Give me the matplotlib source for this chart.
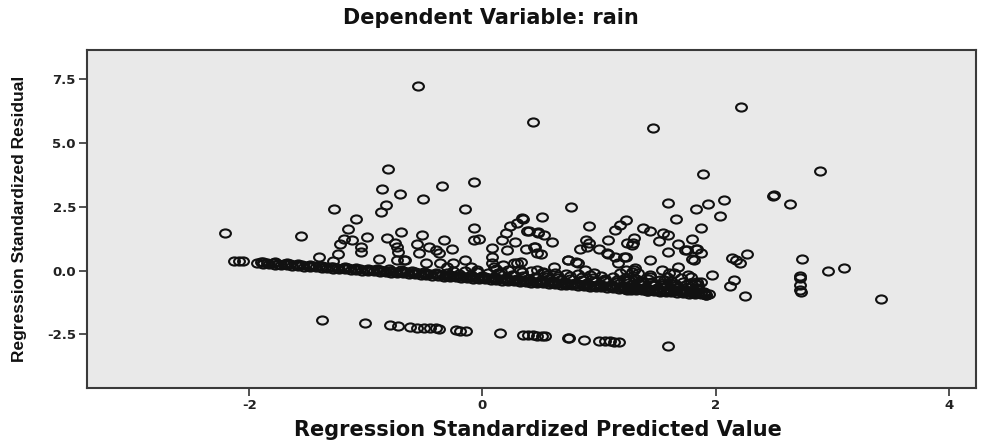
import matplotlib
matplotlib.use("Agg")
import matplotlib.pyplot as plt
from matplotlib.path import Path
from matplotlib.markers import MarkerStyle
from matplotlib.transforms import Affine2D

# ---- data: (standardized predicted, standardized residual) ----
# scattered points above/below the main band
scatter_x = [-0.55, 0.43, 1.46, 2.22, 2.89, 1.89, 2.49, 2.50, 2.64, 1.59, 2.07, 1.93, 1.83, 2.04, 1.66,
             1.87, 1.23, 1.38, 1.44, 1.55, 1.59, 1.80, 1.51, 1.30, 1.28, 1.68, 1.75, 1.83, 1.87, 1.59,
             1.23, 1.44, 1.81, 2.14, 2.17, 2.21, 2.27, 1.68, 2.74, 2.96, 3.10, 2.72, 2.72, 2.72, 2.72,
             2.73, 3.42, 2.25, 1.97, 2.16, 2.12, 1.84, 1.74, 1.80, 1.79, 1.87, 1.73, 1.83, 1.91, 1.94,
             1.70, 1.23, 1.285, 1.33, 1.30, 1.36, 1.21, 1.27, 1.385, 1.44, 1.47, 1.54, 1.56, 1.60, 1.61,
             1.64, 1.66, 1.71, 1.76, 1.79, 1.83, 1.87, 1.90, 1.92, 1.84, 1.50, 1.41, 1.33, 1.24, 1.73,
             0.76, 0.35, 0.51, 0.38, 0.48, 0.53, 0.60, 0.91, 1.14, 1.18, 1.24, 1.08, 0.89, 0.91, 0.90,
             0.84, 1.00, 1.08, 1.21, 1.16, 0.37, 0.45, 0.50, 0.73, 0.80, 0.33, 1.31, 1.58, 1.44, 1.18,
             1.36, 1.43, 1.50, 1.58, 1.66, 1.74, 1.18,
             -0.81, -0.86, -0.71, -0.83, -0.87, -0.51, -0.35, -0.07, -0.15, -0.07, -0.07, -0.03,
             0.34, 0.24, 0.30, 0.20, 0.17, 0.28, 0.40, 0.48, 0.44, 0.47,
             -1.27, -1.08, -1.15, -1.19, -1.12, -0.99, -1.22, -1.04, -1.04, -1.24, -1.40, -1.28, -0.89,
             -2.21, -1.56, -2.13, -2.09, -2.05,
             -0.82, -0.75, -0.73, -0.72, -0.66, -0.70, -0.52, -0.56, -0.54, -0.46, -0.40, -0.37, -0.33,
             -0.26, 0.08, 0.08, 0.08, 0.21, 1.07, 1.14, 1.29,
             -0.15, 0.73, 0.82, 0.61, 0.30, 0.10, -0.30, 0.13, 0.47, 0.53, 0.88, 0.96, 1.26, 1.30, 1.04,
             0.67, 0.27, -0.73, -0.67, -0.48, -0.36, -0.25, 0.18, 0.27, 0.34, -0.10, -0.05, 0.16]
scatter_y = [7.22, 5.82, 5.58, 6.43, 3.91, 3.77, 2.93, 2.95, 2.61, 2.67, 2.77, 2.62, 2.42, 2.16, 2.04,
             1.66, 1.97, 1.66, 1.57, 1.49, 1.40, 1.23, 1.16, 1.27, 1.01, 1.05, 0.81, 0.84, 0.68, 0.75,
             0.55, 0.42, 0.42, 0.49, 0.40, 0.30, 0.64, 0.14, 0.45, -0.02, 0.10, -0.19, -0.30, -0.56, -0.76,
             -0.82, -1.12, -0.98, -0.17, -0.36, -0.62, 0.85, 0.81, 0.45, -0.23, -0.43, -0.76, -0.86, -0.91, -0.93,
             -0.30, 0.03, -0.04, -0.10, -0.30, -0.43, -0.37, -0.63, -0.69, -0.17, -0.56, 0.03, -0.37, -0.10, -0.50,
             -0.10, -0.69, -0.76, -0.17, -0.50, -0.69, -0.82, -0.89, -0.95, -0.43, -0.76, -0.80, -0.69, -0.74, -0.82,
             2.49, 2.03, 2.12, 1.57, 1.51, 1.40, 1.14, 1.75, 1.60, 1.79, 1.10, 1.22, 1.22, 1.08, 0.94,
             0.83, 0.84, 0.65, 0.52, 0.29, 0.84, 0.94, 0.65, 0.42, 0.35, 0.35, 0.09, -0.23, -0.23, -0.10,
             -0.56, -0.76, -0.76, -0.56, -0.76, -0.76, -0.63,
             3.99, 3.19, 3.00, 2.58, 2.28, 2.80, 3.33, 3.48, 2.40, 1.66, 1.22, 1.23,
             2.05, 1.75, 1.85, 1.47, 1.21, 1.14, 1.56, 1.49, 0.94, 0.68,
             2.42, 2.03, 1.63, 1.23, 1.20, 1.32, 1.03, 0.93, 0.72, 0.66, 0.55, 0.38, 0.47,
             1.49, 1.36, 0.38, 0.38, 0.38,
             1.27, 1.09, 0.92, 0.74, 0.42, 1.51, 1.38, 1.03, 0.68, 0.93, 0.80, 0.68, 1.19,
             0.84, 0.89, 0.53, 0.29, 0.81, 0.68, 0.55, 1.07,
             0.42, 0.42, 0.31, 0.16, 0.31, 0.16, 0.16, -0.10, 0.03, -0.10, 0.03, -0.10, -0.37, 0.03, -0.37,
             -0.37, -0.17, 0.42, 0.42, 0.29, 0.29, 0.29, 0.22, 0.29, -0.04, 0.16, 0.03, -0.04]

# dense band of small residuals (rain = 0 days), lowest row
band_x = [-1.93, -1.88, -1.83, -1.78, -1.73, -1.68, -1.63, -1.58, -1.53, -1.48, -1.43, -1.38, -1.33,
          -1.28, -1.23, -1.18, -1.13, -1.08, -1.03, -0.98, -0.93, -0.88, -0.83, -0.78, -0.73, -0.68,
          -0.63, -0.58, -0.53, -0.48, -0.43, -0.38, -0.33, -0.28, -0.23, -0.18, -0.13, -0.08, -0.03,
          0.02, 0.07, 0.12, 0.17, 0.22, 0.27, 0.32, 0.37, 0.42, 0.47, 0.52, 0.57, 0.62, 0.67, 0.72,
          0.77, 0.82, 0.87, 0.92, 0.97, 1.02, 1.07, 1.12, 1.17, 1.22, 1.27, 1.32, 1.37, 1.42, 1.47,
          1.52, 1.57, 1.62, 1.67, 1.72, 1.77, 1.82, 1.87, 1.92]
band_y = [0.29, 0.27, 0.26, 0.24, 0.23, 0.21, 0.19, 0.18, 0.16, 0.15, 0.13, 0.11, 0.10,
          0.08, 0.06, 0.05, 0.03, 0.02, 0.00, -0.02, -0.03, -0.05, -0.06, -0.08, -0.10, -0.11,
          -0.13, -0.14, -0.16, -0.18, -0.19, -0.21, -0.23, -0.24, -0.26, -0.27, -0.29, -0.31, -0.32,
          -0.34, -0.35, -0.37, -0.39, -0.40, -0.42, -0.43, -0.45, -0.47, -0.48, -0.50, -0.51, -0.53,
          -0.55, -0.56, -0.58, -0.59, -0.61, -0.63, -0.64, -0.66, -0.67, -0.69, -0.71, -0.72, -0.74,
          -0.75, -0.77, -0.79, -0.80, -0.82, -0.83, -0.85, -0.87, -0.88, -0.90, -0.91, -0.93, -0.95]

# second row of the band
band2_x = [-1.90, -1.85, -1.80, -1.75, -1.70, -1.65, -1.60, -1.55, -1.50, -1.45, -1.40, -1.35, -1.30,
           -1.25, -1.20, -1.15, -1.10, -1.05, -1.00, -0.95, -0.90, -0.85, -0.80, -0.75, -0.70, -0.65,
           -0.60, -0.55, -0.50, -0.45, -0.40, -0.35, -0.30, -0.25, -0.20, -0.15, -0.10, -0.05, 0.00,
           0.05, 0.10, 0.15, 0.20, 0.25, 0.30, 0.35, 0.40, 0.45, 0.50, 0.55, 0.60, 0.65, 0.70, 0.75,
           0.80, 0.85, 0.90, 0.95, 1.00, 1.05, 1.10, 1.15, 1.20, 1.25, 1.30, 1.35, 1.40, 1.45, 1.50,
           1.55, 1.60, 1.65, 1.70, 1.75, 1.80, 1.85, 1.90]
band2_y = [0.33, 0.31, 0.30, 0.28, 0.27, 0.25, 0.23, 0.22, 0.20, 0.19, 0.17, 0.15, 0.14,
           0.12, 0.10, 0.09, 0.07, 0.06, 0.04, 0.02, 0.01, -0.01, -0.02, -0.04, -0.06, -0.07,
           -0.09, -0.10, -0.12, -0.14, -0.15, -0.17, -0.19, -0.20, -0.22, -0.23, -0.25, -0.27, -0.28,
           -0.30, -0.31, -0.33, -0.35, -0.36, -0.38, -0.39, -0.41, -0.43, -0.44, -0.46, -0.47, -0.49,
           -0.51, -0.52, -0.54, -0.55, -0.57, -0.59, -0.60, -0.62, -0.63, -0.65, -0.67, -0.68, -0.70,
           -0.71, -0.73, -0.75, -0.76, -0.78, -0.79, -0.81, -0.83, -0.84, -0.86, -0.87, -0.89]

# third row, slightly above
band6_x = [-1.88, -1.78, -1.68, -1.58, -1.48, -1.38, -1.28, -1.18, -1.08, -0.98, -0.88, -0.78, -0.68,
           -0.58, -0.48, -0.38, -0.28, -0.18, -0.08, 0.02, 0.12, 0.22, 0.32, 0.42, 0.52, 0.62, 0.72,
           0.82, 0.92, 1.02, 1.12, 1.22, 1.32, 1.42, 1.52, 1.62, 1.72, 1.82]
band6_y = [0.35, 0.32, 0.29, 0.26, 0.22, 0.19, 0.16, 0.13, 0.10, 0.06, 0.03, 0.00, -0.03,
           -0.07, -0.10, -0.13, -0.16, -0.19, -0.23, -0.26, -0.29, -0.32, -0.36, -0.39, -0.42, -0.45,
           -0.48, -0.52, -0.55, -0.58, -0.61, -0.64, -0.68, -0.71, -0.74, -0.77, -0.81, -0.84]

# upper rows that thicken the band to the right
band3_x = [-0.9, -0.8, -0.7, -0.6, -0.5, -0.4, -0.3, -0.2, -0.1, 0.0, 0.1, 0.2, 0.3, 0.4, 0.5,
           0.6, 0.7, 0.8, 0.9, 1.0, 1.1, 1.2, 1.3, 1.4, 1.5, 1.6, 1.7, 1.8, 1.9]
band3_y = [0.08, 0.05, 0.01, -0.02, -0.05, -0.08, -0.11, -0.15, -0.18, -0.21, -0.24, -0.27, -0.31,
           -0.34, -0.37, -0.40, -0.44, -0.47, -0.50, -0.53, -0.56, -0.60, -0.63, -0.66, -0.69, -0.73,
           -0.76, -0.79, -0.82]
band4_x = [-0.25, -0.15, -0.05, 0.05, 0.15, 0.25, 0.35, 0.45, 0.55, 0.65, 0.75, 0.85, 0.95, 1.05,
           1.15, 1.25, 1.35, 1.45, 1.55, 1.65, 1.75, 1.85]
band4_y = [0.00, -0.03, -0.06, -0.10, -0.13, -0.16, -0.19, -0.23, -0.26, -0.29, -0.32, -0.35, -0.39,
           -0.42, -0.45, -0.48, -0.52, -0.55, -0.58, -0.61, -0.64, -0.68]
band7_x = [0.55, 0.65, 0.75, 0.85, 0.95, 1.05, 1.15, 1.25, 1.35, 1.45, 1.55, 1.65, 1.75, 1.85]
band7_y = [-0.16, -0.19, -0.22, -0.25, -0.29, -0.32, -0.35, -0.38, -0.42, -0.45, -0.48, -0.51,
           -0.54, -0.58]
band5_x = [0.12, 0.22, 0.32, 0.42, 0.52, 0.62, 0.72, 0.82, 0.92, 1.02, 1.12, 1.22, 1.32, 1.42, 1.52,
           1.62, 1.72, 1.82]
band5_y = [0.08, 0.04, 0.01, -0.02, -0.05, -0.08, -0.12, -0.15, -0.18, -0.21, -0.25, -0.28, -0.31,
           -0.34, -0.37, -0.41, -0.44, -0.47]

# lower streak of negative residuals
low_x = [-1.38, -1.01, -0.79, -0.72, -0.62, -0.56, -0.50, -0.45, -0.40, -0.37, -0.23, -0.19, -0.14,
         0.15, 0.35, 0.39, 0.43, 0.47, 0.51, 0.54, 0.73, 0.74, 0.87, 1.00, 1.05, 1.09, 1.13, 1.17, 1.59]
low_y = [-1.93, -2.05, -2.13, -2.16, -2.21, -2.23, -2.23, -2.24, -2.26, -2.27, -2.34, -2.35, -2.36,
         -2.46, -2.52, -2.53, -2.54, -2.55, -2.56, -2.56, -2.65, -2.65, -2.72, -2.75, -2.76, -2.77,
         -2.78, -2.79, -2.94]

x_ticks = [-2, 0, 2, 4]
y_ticks = [-2.5, 0.0, 2.5, 5.0, 7.5]
y_tick_labels = ["-2.5", "0.0", "2.5", "5.0", "7.5"]

title = "Dependent Variable: rain"
x_label = "Regression Standardized Predicted Value"
y_label = "Regression Standardized Residual"

# ---- figure ----
fig = plt.figure(figsize=(9.81, 4.42), dpi=100)
fig.patch.set_facecolor("white")
ax = fig.add_axes([87 / 981, 1 - 388 / 442, (976 - 87) / 981, (388 - 50) / 442])
ax.set_facecolor("#e9e9e9")

ell = Path.unit_circle().transformed(Affine2D().scale(1.0, 0.75))
mk = MarkerStyle(ell)
style = dict(linestyle="none", marker=mk, markersize=7.8, markerfacecolor="none",
             markeredgecolor="#111111", markeredgewidth=1.5)

for xs, ys in [(band_x, band_y), (band2_x, band2_y), (band6_x, band6_y), (band3_x, band3_y),
               (band4_x, band4_y), (band7_x, band7_y), (band5_x, band5_y),
               (scatter_x, scatter_y), (low_x, low_y)]:
    ax.plot(xs, ys, **style)

ax.set_xlim(-3.39, 4.23)
ax.set_ylim(-4.6, 8.65)
ax.set_xticks(x_ticks)
ax.set_xticklabels([str(t) for t in x_ticks])
ax.set_yticks(y_ticks)
ax.set_yticklabels(y_tick_labels)

for sp in ax.spines.values():
    sp.set_color("#3a3a3a")
    sp.set_linewidth(1.5)

ax.tick_params(axis="both", direction="out", length=6, width=1.2, color="#333333",
               labelcolor="#222222", pad=2)
for lab in ax.get_xticklabels() + ax.get_yticklabels():
    lab.set_fontfamily(["DejaVu Sans"])
    lab.set_fontweight("bold")
    lab.set_fontsize(9.5)

fig.text(0.5, 1 - 18 / 442, title, ha="center", va="center", fontsize=15, fontweight="bold",
         family=["DejaVu Sans"], color="#111111")
fig.text(538 / 981, 1 - 430 / 442, x_label, ha="center", va="center", fontsize=15, fontweight="bold",
         family=["DejaVu Sans"], color="#111111")
fig.text(20 / 981, 1 - 219 / 442, y_label, ha="center", va="center", rotation=90, fontsize=12.5,
         fontweight="bold", family=["Liberation Sans Narrow", "Liberation Sans", "DejaVu Sans"],
         color="#111111")

fig.savefig("out.png", dpi=100, facecolor="white")
